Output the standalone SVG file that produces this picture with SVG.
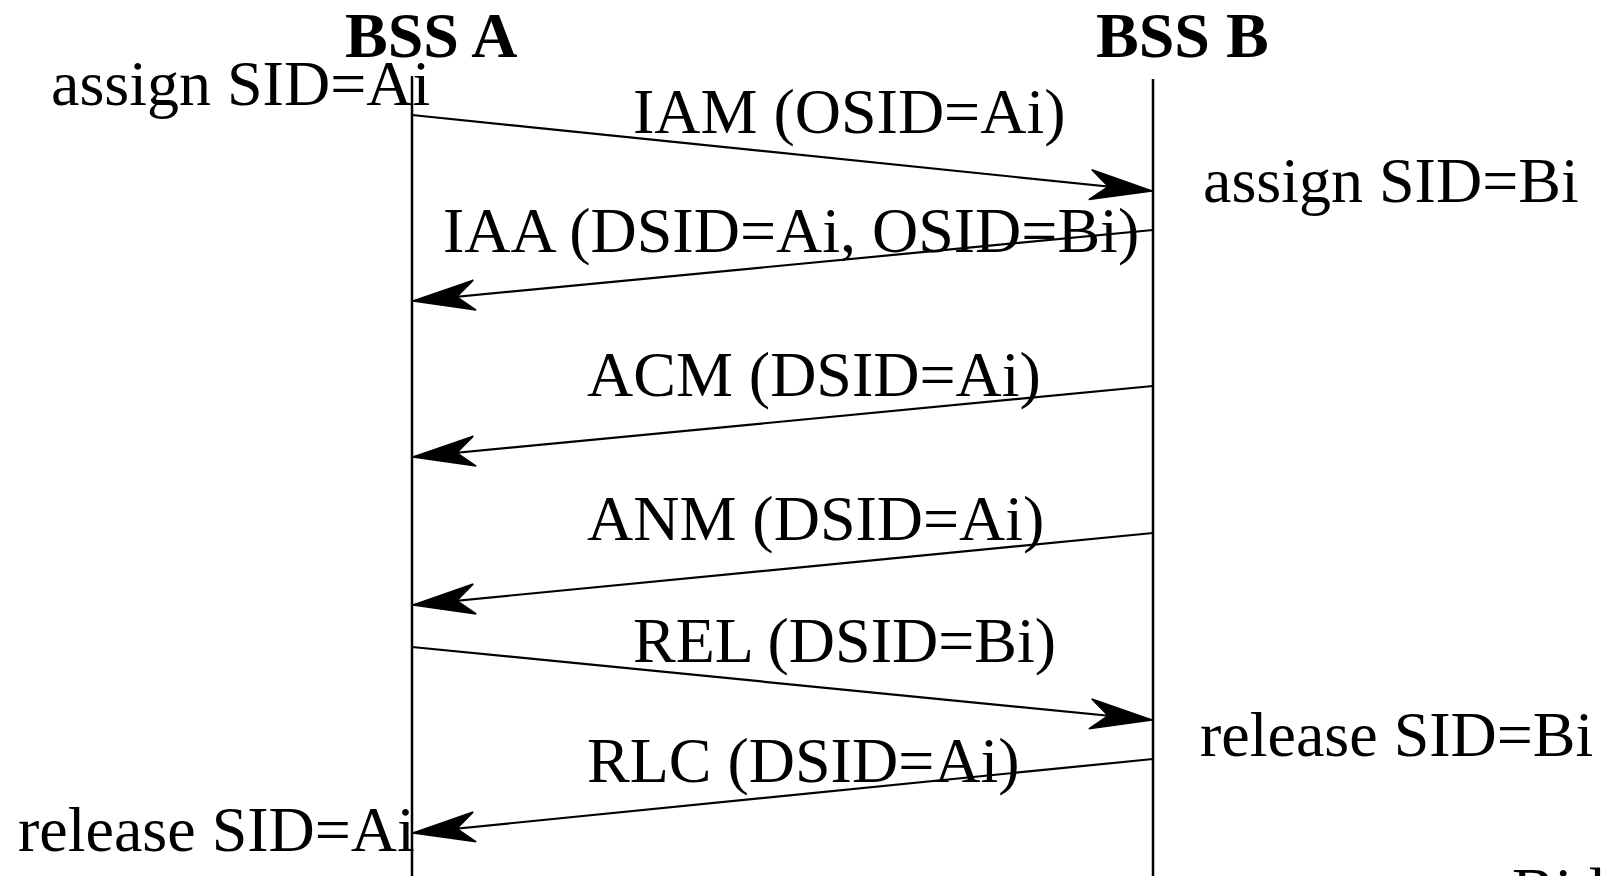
<svg xmlns="http://www.w3.org/2000/svg" width="1602" height="876" viewBox="0 0 1602 876">
<style>
text { font-family: "Liberation Serif", "Times New Roman", serif; font-size: 64px; fill: #000; }
.head { font-weight: bold; }
.life { stroke: #000; stroke-width: 2.5; fill: none; }
.msg { stroke: #000; stroke-width: 2.2; fill: none; marker-end: url(#arr); }
</style>
<defs>
<marker id="arr" markerUnits="userSpaceOnUse" viewBox="-66 -18 68 36" refX="0" refY="0" markerWidth="68" markerHeight="36" orient="auto">
<path d="M0,0 L-62,-15 L-44,0 L-62,15 Z" fill="#000" stroke="#000" stroke-width="1.5" stroke-linejoin="miter"/>
</marker>
</defs>
<rect width="1602" height="876" fill="#fff"/>
<g id="bssA">
<text class="head" x="345" y="57">BSS A</text>
<line class="life" x1="412" y1="76" x2="412" y2="876"/>
</g>
<g id="bssB">
<text class="head" x="1096" y="57">BSS B</text>
<line class="life" x1="1153" y1="79" x2="1153" y2="876"/>
</g>
<g id="notes">
<text x="51" y="105">assign SID=Ai</text>
<text x="1203" y="202">assign SID=Bi</text>
<text x="1200" y="756">release SID=Bi</text>
<text x="18" y="851">release SID=Ai</text>
<text x="1512" y="912">Bid</text>
</g>
<g id="connectors">
<line class="msg" x1="412" y1="115" x2="1152" y2="191"/>
<line class="msg" x1="1153" y1="230" x2="413" y2="301"/>
<line class="msg" x1="1153" y1="386" x2="413" y2="457"/>
<line class="msg" x1="1153" y1="533" x2="413" y2="605"/>
<line class="msg" x1="412" y1="647" x2="1152" y2="720"/>
<line class="msg" x1="1153" y1="759" x2="413" y2="833"/>
</g>
<g id="labels">
<text x="633" y="133">IAM (OSID=Ai)</text>
<text x="443" y="252">IAA (DSID=Ai, OSID=Bi)</text>
<text x="587" y="396">ACM (DSID=Ai)</text>
<text x="587" y="540">ANM (DSID=Ai)</text>
<text x="633" y="662">REL (DSID=Bi)</text>
<text x="587" y="782">RLC (DSID=Ai)</text>
</g>
</svg>
